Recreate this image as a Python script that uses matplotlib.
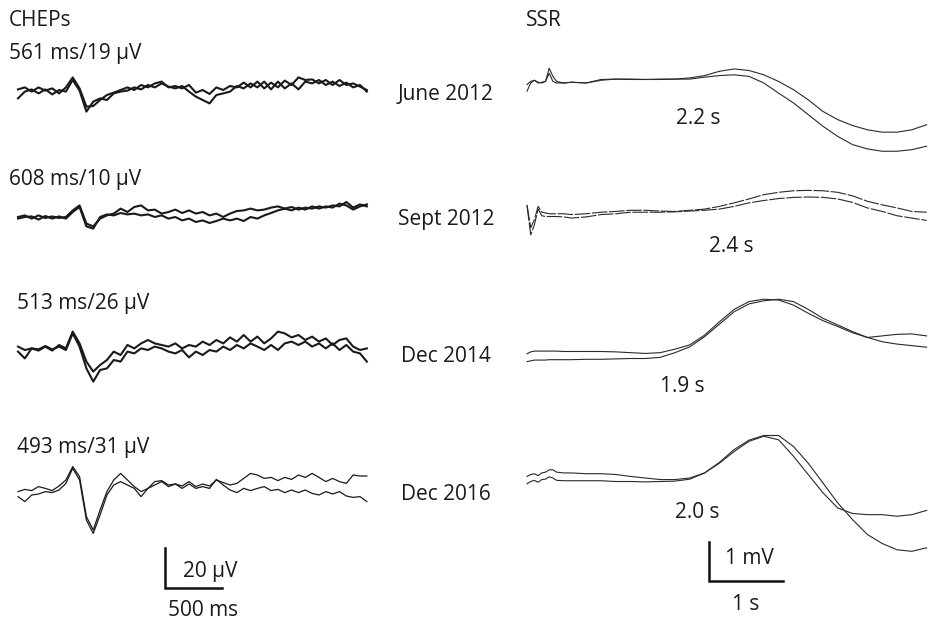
import numpy as np
import matplotlib
matplotlib.use("Agg")
import matplotlib.pyplot as plt

plt.rcParams['font.family'] = ['Open Sans', 'DejaVu Sans']

# ---- data: CHEPs (ms, uV), two superimposed trials per session ----
chep_t = np.arange(52) * 60  # sampling grid, ms

chep_jun12_a = [0.3, 1.3, -0.8, 1.3, -0.3, 0.8, -1.7, 1.3, 6.3, 0.8, -8.3, -8.0, -5.0, -2.5,
                -1.3, 0, 1.3, 0, 2.5, 1.3, 3.3, 4.2, 1.3, 2.0, 0.8, 2.5, -1.3, 0, -2.0, 1.3,
                0, 2.0, 1.3, 3.7, 1.3, 4.2, 0.8, 3.7, 1.3, 4.7, 2.5, 6.3, 5.0, 5.3, 3.3, 5.0,
                2.5, 5.0, 2.5, 3.3, 1.7, 0]
chep_jun12_b = [-4.2, -0.8, 0.3, -1.7, 0.3, -2.2, 0, -0.8, 5.0, -0.3, -10.8, -5.8, -4.2, -5.0,
                -1.7, -0.8, -0.3, 1.3, 0.3, 2.5, 1.3, 3.3, 1.7, 0.8, 2.0, -0.8, -3.3, -5.0, -6.7,
                -2.5, -1.7, -0.8, 2.0, 0.8, 3.3, 1.3, 4.2, 0.3, 4.2, 0.8, 3.3, 0.3, 4.2, 3.3,
                5.0, 2.5, 4.2, 2.0, 3.7, 1.3, 2.5, -0.8]

chep_sep12_a = [0, 0.8, -0.8, 0.8, -0.5, 0.3, -0.5, 0, 3.3, 5.8, -3.3, -4.7, -0.8, 0.8, 1.7,
                4.2, 2.5, 5.0, 5.8, 3.3, 3.7, 1.7, 2.5, 3.7, 2.0, 3.3, 1.7, 2.5, 0.8, 1.7, 0,
                1.7, 3.0, 3.3, 4.2, 3.3, 3.7, 4.7, 5.3, 4.2, 5.0, 3.7, 4.7, 4.2, 5.3, 4.7, 5.8,
                5.3, 7.5, 4.7, 6.3, 5.3]
chep_sep12_b = [-0.8, 0, 0.3, -1.3, 0.5, -0.8, 0.3, -0.8, 2.5, 5.0, -4.7, -5.8, 0, 1.3, 0.8,
                2.0, 1.3, 1.7, 0.8, 1.3, 0, 0.8, -0.8, 0, -1.7, -0.8, -2.5, -1.7, -3.0, -2.0,
                -0.8, -1.7, -0.8, -2.0, 0, -0.8, 0.8, 2.0, 3.3, 4.2, 3.3, 4.7, 3.7, 5.3, 4.2,
                5.3, 4.7, 6.7, 5.8, 3.7, 5.3, 6.3]

chep_dec14_a = [1.7, 0, 0.8, -0.3, 1.7, -0.3, 2.5, 0.8, 9.2, 3.3, -5.8, -10.8, -7.5, -5.0,
                -0.8, -2.5, 2.5, 0.8, 3.3, 5.0, 3.3, 2.5, 1.7, 3.3, 0.8, 2.5, 1.7, 4.2, 2.5,
                5.0, 3.3, 6.3, 4.2, 7.5, 4.2, 6.7, 3.3, 5.8, 9.2, 8.3, 6.3, 7.5, 5.0, 6.7, 4.2,
                5.8, 2.5, 5.0, 5.8, 1.7, 0, 0.8]
chep_dec14_b = [-0.8, -4.2, 0.8, 0.3, 2.0, 0.3, 1.7, 0, 8.3, 1.7, -9.2, -15.8, -10.0, -9.2,
                -5.0, -5.8, -0.8, -1.7, 0.8, 0, 1.7, 0.8, -0.8, -1.7, 0, -3.7, -0.8, -2.5, 0,
                -0.8, 1.7, 0, 2.5, 0.8, 3.3, 1.7, 0, 2.5, 0, 3.3, 4.2, 2.5, 4.2, 1.7, 3.3, 0.8,
                3.3, 0, 2.5, -0.8, -1.7, -5.8]

chep_dec16_a = [-0.8, 0.3, -0.3, 1.7, 0.8, -0.3, 2.0, 5.0, 11.7, 6.7, -13.3, -20.0, -10.0,
                -0.8, 5.0, 8.3, 5.0, 1.7, -0.8, 0.8, 4.2, 4.7, 2.5, 3.0, 2.0, 4.2, 1.7, 3.0,
                2.0, 5.0, 3.7, 2.5, 3.3, 5.8, 8.3, 7.5, 5.8, 6.3, 4.7, 6.3, 5.3, 7.5, 6.3, 8.3,
                6.3, 4.2, 5.8, 4.2, 3.3, 7.5, 7.0, 7.0]
chep_dec16_b = [-3.3, -5.8, -2.5, -2.0, -0.8, -1.3, 0, 3.3, 10.8, 5.0, -15.0, -21.7, -12.5,
                -2.5, 2.5, 4.2, 2.5, 0.8, -3.3, 0.8, 2.5, 4.2, 1.7, 3.0, 0.8, 3.0, 0.8, 1.7,
                0.8, 5.3, 2.5, 0, -1.3, 0.8, -0.3, 0.8, 1.7, -0.3, 0.3, -1.3, 0, -1.3, 0, -1.7,
                -2.5, -0.8, -2.0, -0.8, -3.0, -3.7, -3.3, -5.8]

# ---- data: SSR (s, mV) ----
ssr_t = [0, 0.05, 0.1, 0.15, 0.2, 0.25, 0.3, 0.35, 0.4, 0.5, 0.6, 0.8, 1.0, 1.2, 1.4, 1.6,
         1.8, 2.0, 2.2, 2.4, 2.6, 2.8, 3.0, 3.2, 3.4, 3.6, 3.8, 4.0, 4.2, 4.4, 4.6, 4.8,
         5.0, 5.2, 5.4]

ssr_jun12_a = [-0.21, 0, 0.07, 0.02, 0, 0.04, 0.38, 0.17, 0.04, 0, 0.02, 0, 0.09, 0.10,
               0.10, 0.09, 0.09, 0.10, 0.13, 0.19, 0.30, 0.36, 0.32, 0.21, 0.04, -0.17, -0.43,
               -0.73, -0.94, -1.09, -1.20, -1.26, -1.26, -1.20, -1.07]
ssr_jun12_b = [-0.04, 0.04, 0.07, 0, 0.02, 0.04, 0.25, 0.04, 0, 0, 0.02, 0, 0.07, 0.10,
               0.09, 0.09, 0.10, 0.10, 0.10, 0.15, 0.19, 0.21, 0.17, 0, -0.26, -0.51, -0.81,
               -1.11, -1.37, -1.58, -1.69, -1.75, -1.75, -1.71, -1.62]

ssr_sep12_a = [0.21, -0.38, -0.17, 0.17, 0.02, 0, -0.02, -0.02, -0.02, -0.02, -0.04, -0.02,
               0.02, 0.04, 0.07, 0.07, 0.05, 0.04, 0.07, 0.10, 0.17, 0.26, 0.36, 0.47, 0.53,
               0.57, 0.58, 0.57, 0.53, 0.44, 0.30, 0.21, 0.13, 0.04, 0.02]
ssr_sep12_b = [0.19, -0.56, -0.30, 0.10, -0.07, -0.09, -0.09, -0.09, -0.09, -0.10, -0.13,
               -0.10, -0.04, -0.02, 0.02, 0.02, 0.02, 0.03, 0.05, 0.07, 0.10, 0.17, 0.26,
               0.32, 0.37, 0.40, 0.41, 0.40, 0.36, 0.27, 0.13, 0.04, -0.07, -0.13, -0.19]

ssr_dec14_a = [0.03, 0.08, 0.10, 0.10, 0.10, 0.10, 0.10, 0.10, 0.10, 0.09, 0.09, 0.09, 0.09,
               0.08, 0.06, 0.04, 0.06, 0.15, 0.26, 0.51, 0.85, 1.17, 1.37, 1.43, 1.41, 1.28,
               1.07, 0.88, 0.73, 0.57, 0.45, 0.49, 0.53, 0.54, 0.49]
ssr_dec14_b = [-0.17, -0.15, -0.13, -0.13, -0.13, -0.13, -0.12, -0.12, -0.12, -0.12, -0.12,
               -0.11, -0.11, -0.10, -0.09, -0.09, -0.06, 0.06, 0.21, 0.47, 0.79, 1.11, 1.31,
               1.39, 1.43, 1.37, 1.17, 0.94, 0.77, 0.60, 0.45, 0.34, 0.28, 0.24, 0.20]

ssr_dec16_a = [0.04, 0.09, 0.11, 0.06, 0.13, 0.15, 0.21, 0.21, 0.15, 0.13, 0.13, 0.11, 0.11,
               0.09, 0.04, 0, -0.04, -0.04, 0, 0.13, 0.38, 0.68, 0.94, 1.07, 0.98, 0.56, 0.09,
               -0.38, -0.77, -0.91, -0.94, -0.94, -0.98, -0.94, -0.83]
ssr_dec16_b = [-0.15, -0.09, -0.06, -0.11, -0.04, -0.03, 0.03, 0, -0.06, -0.07, -0.07, -0.07,
               -0.07, -0.09, -0.09, -0.10, -0.09, -0.08, -0.03, 0.13, 0.40, 0.73, 0.97, 1.09,
               1.09, 0.81, 0.38, -0.13, -0.64, -1.07, -1.45, -1.68, -1.84, -1.88, -1.79]

sessions = ["June 2012", "Sept 2012", "Dec 2014", "Dec 2016"]
chep_labels = ["561 ms/19 \u00b5V", "608 ms/10 \u00b5V", "513 ms/26 \u00b5V", "493 ms/31 \u00b5V"]
ssr_latency = ["2.2 s", "2.4 s", "1.9 s", "2.0 s"]
chep_bar = (500, 20)   # ms, uV
ssr_bar = (1, 1)       # s, mV

# ---- layout (pixels) ----
W, H = 930, 620
fig = plt.figure(figsize=(W / 100, H / 100), dpi=100)
fig.patch.set_facecolor("white")

CHEP_UX, CHEP_UY = 500 / 57, 20 / 40   # ms per px, uV per px
SSR_UX, SSR_UY = 1 / 74, 1 / 39        # s per px, mV per px


def unit_axes(ox, oy, ux, uy, xlim, ylim):
    # axes whose data origin sits at pixel (ox, oy) with the given units per pixel
    left = ox + xlim[0] / ux
    right = ox + xlim[1] / ux
    top = oy - ylim[1] / uy
    bottom = oy - ylim[0] / uy
    ax = fig.add_axes([left / W, 1 - bottom / H, (right - left) / W, (bottom - top) / H])
    ax.set_xlim(*xlim)
    ax.set_ylim(*ylim)
    ax.axis("off")
    ax.patch.set_alpha(0)
    return ax


chep_base = [90, 217, 350, 490]
ssr_base = [83, 213, 355, 478]
cheps = [(chep_jun12_a, chep_jun12_b), (chep_sep12_a, chep_sep12_b),
         (chep_dec14_a, chep_dec14_b), (chep_dec16_a, chep_dec16_b)]
ssrs = [(ssr_jun12_a, ssr_jun12_b), (ssr_sep12_a, ssr_sep12_b),
        (ssr_dec14_a, ssr_dec14_b), (ssr_dec16_a, ssr_dec16_b)]
chep_lw = [1.5, 1.5, 1.5, 0.9]

for i in range(4):
    ax = unit_axes(18, chep_base[i], CHEP_UX, CHEP_UY, (0, 3150), (-25, 25))
    for tr in cheps[i]:
        ax.plot(chep_t, tr, color="#1a1a1a", lw=chep_lw[i], clip_on=False)
    ax = unit_axes(527, ssr_base[i], SSR_UX, SSR_UY, (0, 5.5), (-2.5, 2.5))
    ls = (0, (14, 1.5)) if i == 1 else "-"
    for tr in ssrs[i]:
        ax.plot(ssr_t, tr, color="#2a2a2a", lw=0.8, ls=ls, clip_on=False)

# scale bars
ax = unit_axes(165, 588, CHEP_UX, CHEP_UY, (0, chep_bar[0]), (0, chep_bar[1]))
ax.plot([0, 0, chep_bar[0]], [chep_bar[1], 0, 0], color="#111111", lw=1.8,
        solid_joinstyle="miter", clip_on=False)
ax = unit_axes(709, 581, SSR_UX, SSR_UY, (0, ssr_bar[0]), (0, ssr_bar[1]))
ax.plot([0, 0, ssr_bar[0]], [ssr_bar[1], 0, 0], color="#111111", lw=1.8,
        solid_joinstyle="miter", clip_on=False)

# text overlay in pixel coordinates
tx = fig.add_axes([0, 0, 1, 1])
tx.set_xlim(0, W)
tx.set_ylim(H, 0)
tx.axis("off")
tx.patch.set_alpha(0)
fs = 15
col = "#1a1a1a"
tx.text(9, 20, "CHEPs", fontsize=fs, color=col, va="center")
tx.text(526, 20, "SSR", fontsize=fs, color=col, va="center")

label_pos = [(9, 54), (9, 179), (17, 303), (17, 447)]
for (x, y), s in zip(label_pos, chep_labels):
    tx.text(x, y, s, fontsize=fs, color=col, va="center")

date_y = [95, 220, 356, 495]
for y, s in zip(date_y, sessions):
    tx.text(446, y, s, fontsize=fs, color=col, va="center", ha="center")

lat_pos = [(698, 118), (731, 247), (682, 386), (697, 512)]
for (x, y), s in zip(lat_pos, ssr_latency):
    tx.text(x, y, s, fontsize=fs, color=col, va="center", ha="center")

tx.text(210, 571, "20 \u00b5V", fontsize=fs, color=col, va="center", ha="center")
tx.text(203, 610, "500 ms", fontsize=fs, color=col, va="center", ha="center")
tx.text(749, 558, "1 mV", fontsize=fs, color=col, va="center", ha="center")
tx.text(746, 605, "1 s", fontsize=fs, color=col, va="center", ha="center")

fig.savefig("out.png", dpi=100)
